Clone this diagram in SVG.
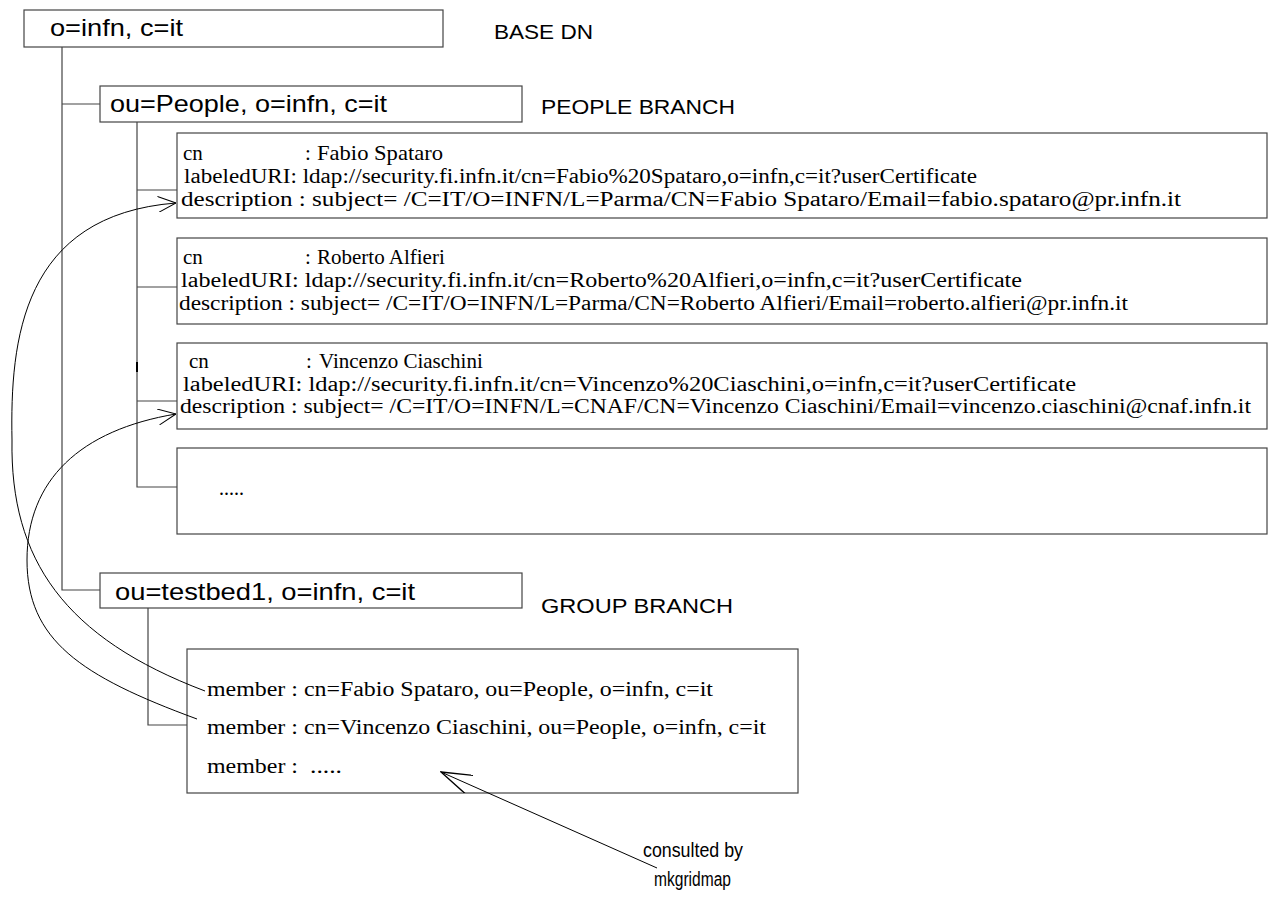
<svg xmlns="http://www.w3.org/2000/svg" width="1272" height="910" viewBox="0 0 1272 910">
<style>
.box{fill:#fff;stroke:#444;stroke-width:1.2}
.tree{fill:none;stroke:#444;stroke-width:1.2}
.curve{fill:none;stroke:#000;stroke-width:1}
.sans{font-family:"Liberation Sans",Arial,sans-serif;fill:#000}
.big{font-size:24px}
.lbl{font-size:21px}
.note{font-size:20px}
.serif{font-family:"Liberation Serif","Times New Roman",serif;font-size:20px;fill:#000}
.cn{font-size:21px}
</style>
<defs>
<marker id="openS" viewBox="0 0 18 16" refX="18" refY="8" markerWidth="18" markerHeight="16" markerUnits="userSpaceOnUse" orient="auto">
<path d="M0,0 L18,8 L0,16" fill="none" stroke="#000" stroke-width="1"/>
</marker>
<marker id="openL" viewBox="0 0 32 20" refX="31" refY="10" markerWidth="32" markerHeight="20" markerUnits="userSpaceOnUse" orient="auto">
<path d="M0,0 L31,10 L0,20" fill="none" stroke="#000" stroke-width="1.4"/>
</marker>
</defs>
<rect width="1272" height="910" fill="#fff"/>

<g id="base-dn">
<rect class="box" x="24" y="10" width="419" height="37"/>
<text class="sans big" x="50" y="36" textLength="133" lengthAdjust="spacingAndGlyphs">o=infn, c=it</text>
</g>
<g id="base-label"><text class="sans lbl" x="494" y="39" textLength="99" lengthAdjust="spacingAndGlyphs">BASE DN</text></g>

<g id="people">
<rect class="box" x="100" y="86" width="422" height="36"/>
<text class="sans big" x="110" y="112" textLength="277" lengthAdjust="spacingAndGlyphs">ou=People, o=infn, c=it</text>
</g>
<g id="people-label"><text class="sans lbl" x="541" y="114" textLength="194" lengthAdjust="spacingAndGlyphs">PEOPLE BRANCH</text></g>

<g id="fabio">
<rect class="box" x="177" y="133" width="1090" height="85"/>
<text class="serif cn" y="160"><tspan x="183">cn</tspan><tspan x="305">:</tspan><tspan x="317" textLength="126" lengthAdjust="spacingAndGlyphs">Fabio Spataro</tspan></text>
<text class="serif" x="184" y="183" textLength="793" lengthAdjust="spacingAndGlyphs">labeledURI: ldap://security.fi.infn.it/cn=Fabio%20Spataro,o=infn,c=it?userCertificate</text>
<text class="serif" x="181" y="206" textLength="1000" lengthAdjust="spacingAndGlyphs">description :  subject= /C=IT/O=INFN/L=Parma/CN=Fabio Spataro/Email=fabio.spataro@pr.infn.it</text>
</g>

<g id="roberto">
<rect class="box" x="177" y="238" width="1090" height="86"/>
<text class="serif cn" y="264"><tspan x="183">cn</tspan><tspan x="305">:</tspan><tspan x="317">Roberto Alfieri</tspan></text>
<text class="serif" x="181" y="287" textLength="841" lengthAdjust="spacingAndGlyphs">labeledURI: ldap://security.fi.infn.it/cn=Roberto%20Alfieri,o=infn,c=it?userCertificate</text>
<text class="serif" x="179" y="310" textLength="949" lengthAdjust="spacingAndGlyphs">description : subject= /C=IT/O=INFN/L=Parma/CN=Roberto Alfieri/Email=roberto.alfieri@pr.infn.it</text>
</g>

<g id="vincenzo">
<rect class="box" x="177" y="343" width="1090" height="86"/>
<text class="serif cn" y="368"><tspan x="189">cn</tspan><tspan x="306">:</tspan><tspan x="319">Vincenzo Ciaschini</tspan></text>
<text class="serif" x="183" y="391" textLength="893" lengthAdjust="spacingAndGlyphs">labeledURI: ldap://security.fi.infn.it/cn=Vincenzo%20Ciaschini,o=infn,c=it?userCertificate</text>
<text class="serif" x="180" y="413" textLength="1071" lengthAdjust="spacingAndGlyphs">description : subject= /C=IT/O=INFN/L=CNAF/CN=Vincenzo Ciaschini/Email=vincenzo.ciaschini@cnaf.infn.it</text>
</g>

<g id="more-people">
<rect class="box" x="177" y="448" width="1090" height="86"/>
<text class="serif" x="219" y="495">.....</text>
</g>

<g id="testbed">
<rect class="box" x="100" y="573" width="422" height="35"/>
<text class="sans big" x="115" y="600" textLength="300" lengthAdjust="spacingAndGlyphs">ou=testbed1, o=infn, c=it</text>
</g>
<g id="group-label"><text class="sans lbl" x="541" y="613" textLength="192" lengthAdjust="spacingAndGlyphs">GROUP BRANCH</text></g>

<g id="members">
<rect class="box" x="187" y="649" width="611" height="144"/>
<text class="serif" x="207" y="696" textLength="506" lengthAdjust="spacingAndGlyphs">member : cn=Fabio Spataro, ou=People, o=infn, c=it</text>
<text class="serif" x="207" y="734" textLength="559" lengthAdjust="spacingAndGlyphs">member : cn=Vincenzo Ciaschini, ou=People, o=infn, c=it</text>
<text class="serif" y="773"><tspan x="207" textLength="91" lengthAdjust="spacingAndGlyphs">member :</tspan><tspan x="310" textLength="32" lengthAdjust="spacingAndGlyphs">.....</tspan></text>
</g>

<g id="note">
<text class="sans note" x="643" y="857" textLength="100" lengthAdjust="spacingAndGlyphs">consulted by</text>
<text class="sans note" x="654" y="886" textLength="77" lengthAdjust="spacingAndGlyphs">mkgridmap</text>
</g>

<g id="connectors">
<path class="tree" d="M62,47 V590 H100 M62,104 H100"/>
<path class="tree" d="M137,122 V487 H177 M137,190 H177 M137,287 H177 M137,401 H177"/>
<path d="M137,362 V372" stroke="#000" stroke-width="2"/>
<path class="tree" d="M148,608 V725 H187"/>
<path class="curve" d="M205,691 C65,638 10,560 12,440 C10,340 22,215 176,203" marker-end="url(#openS)"/>
<path class="curve" d="M197,719 C80,676 27,640 27,560 C27,480 80,430 176,414" marker-end="url(#openS)"/>
<path class="curve" d="M657,868 L441,772" stroke-width="1.4" marker-end="url(#openL)"/>
</g>
</svg>
